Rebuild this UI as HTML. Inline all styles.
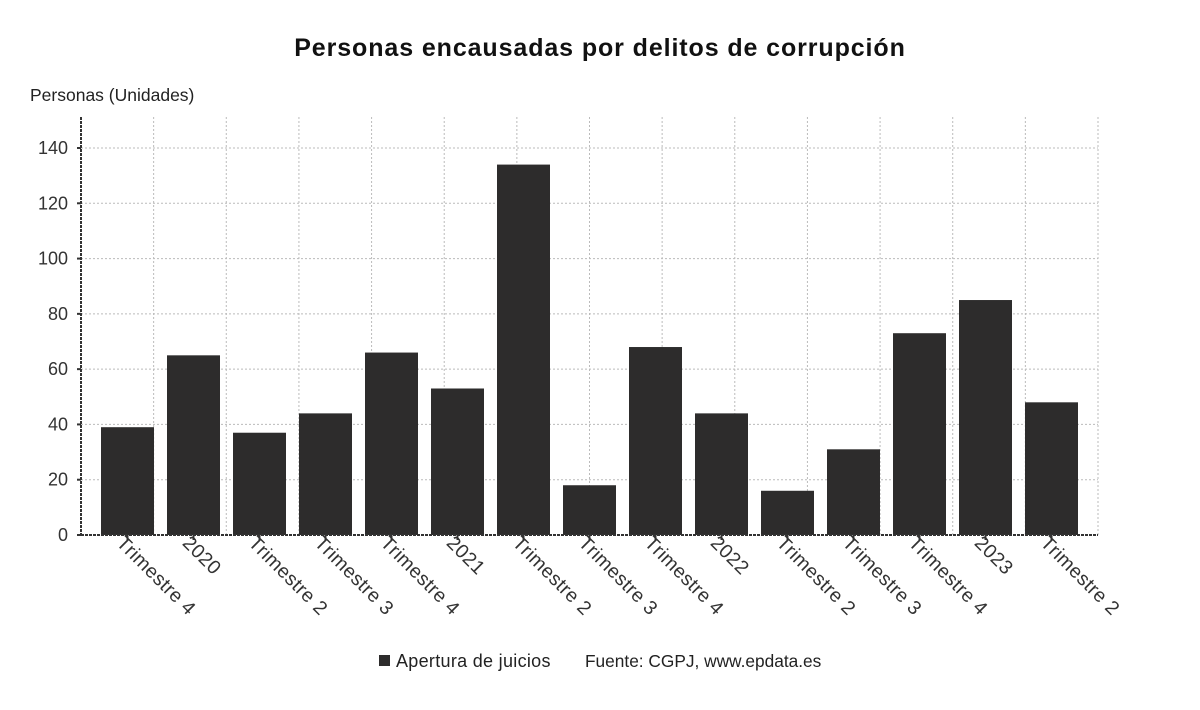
<!DOCTYPE html>
<html><head><meta charset="utf-8"><style>
body{margin:0;background:#fff;font-family:"Liberation Sans","DejaVu Sans",sans-serif}
</style></head><body>
<svg width="1200" height="705" xmlns="http://www.w3.org/2000/svg">
<text x="600" y="56" text-anchor="middle" font-size="25" font-weight="bold" letter-spacing="0.9" fill="#111">Personas encausadas por delitos de corrupción</text>
<text x="30" y="101" font-size="17.5" fill="#222">Personas (Unidades)</text>
<g id="grid"></g><g id="bars"></g><g id="axes"></g>
<rect x="379" y="655" width="11" height="11" fill="#2d2c2c"/>
<text x="396" y="667" font-size="18" letter-spacing="0.3" fill="#222">Apertura de juicios</text>
<text x="585" y="667" font-size="17.3" fill="#222">Fuente: CGPJ, www.epdata.es</text>
</svg>
<script>
const categories=["Trimestre 4","2020","Trimestre 2","Trimestre 3","Trimestre 4","2021","Trimestre 2","Trimestre 3","Trimestre 4","2022","Trimestre 2","Trimestre 3","Trimestre 4","2023","Trimestre 2"];
const values=[39,65,37,44,66,53,134,18,68,44,16,31,73,85,48];
const yTicks=[0,20,40,60,80,100,120,140];
const NS="http://www.w3.org/2000/svg";
const L=81,R=1098,T=117,B=535,yMax=140,yMaxPx=148;
const y=v=>B-(B-yMaxPx)*v/yMax;
const x0=127.5, dx=66;
const xc=i=>x0+i*dx;
function mk(t,a,p){const e=document.createElementNS(NS,t);for(const k in a)e.setAttribute(k,a[k]);p.appendChild(e);return e;}
const grid=document.getElementById('grid'),bars=document.getElementById('bars'),axes=document.getElementById('axes');
for(let k=1;k<=14;k++){const gx=L+k*(R-L)/14;
const l=mk('line',{x1:gx,x2:gx,y1:T,y2:B,stroke:'#bbb','stroke-dasharray':'2,2'},grid);

}
yTicks.forEach(v=>{
 if(v>0){const g=mk('line',{x1:L,x2:R,y1:y(v),y2:y(v),stroke:'#bbb','stroke-dasharray':'2,2'},grid);
 
 }
 const t=mk('text',{x:L-13,y:y(v)+6,'text-anchor':'end','font-size':18,fill:'#333'},axes);t.textContent=v;
 
 
 mk('line',{x1:L-4,x2:L,y1:y(v),y2:y(v),stroke:'#333','stroke-width':2},axes);
});
values.forEach((v,i)=>{
 const r=mk('rect',{x:xc(i)-26.5,y:y(v),width:53,height:B-y(v),fill:'#2d2c2c'},bars);
 
 
 mk('line',{x1:xc(i),x2:xc(i),y1:B,y2:B+5,stroke:'#333','stroke-width':2},axes);
 const t=mk('text',{x:0,y:0,'font-size':19.5,'letter-spacing':0.4,fill:'#333',transform:`translate(${xc(i)-12},${B+9}) rotate(45)`},axes);
 t.textContent=categories[i];
 
 
});
const ya=mk('line',{x1:L,x2:L,y1:T,y2:B,stroke:'#333','stroke-width':2,'stroke-dasharray':'3,1'},axes);


const xa=mk('line',{x1:L,x2:R,y1:B,y2:B,stroke:'#333','stroke-width':2,'stroke-dasharray':'3,1'},axes);


</script>
</body></html>
